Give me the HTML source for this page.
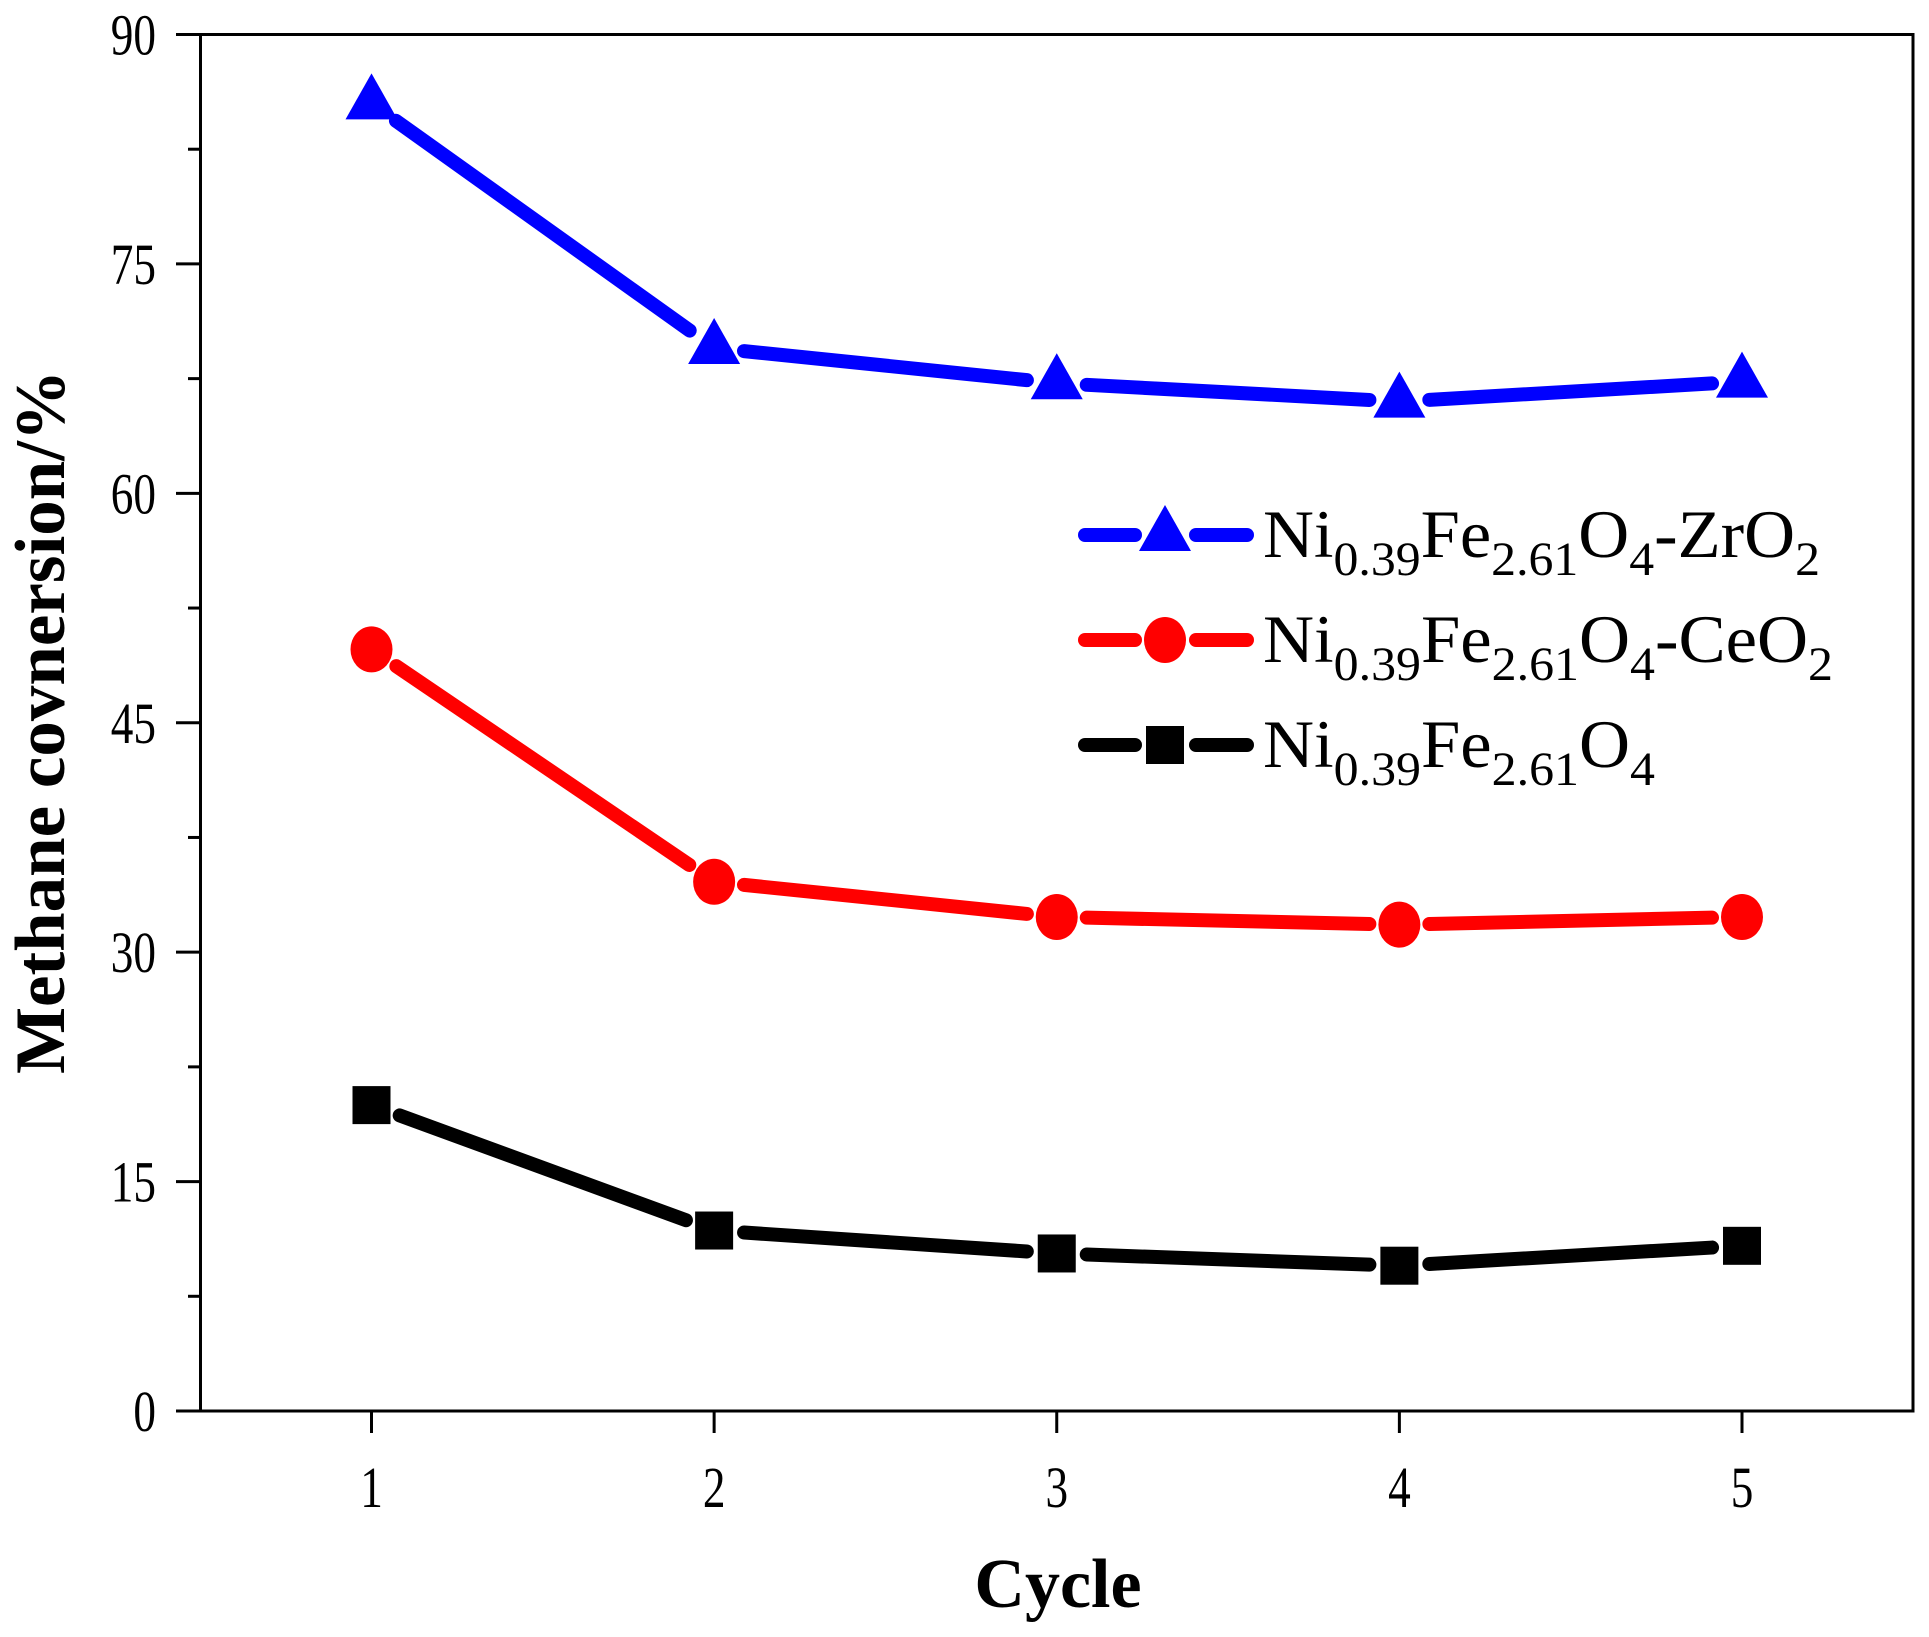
<!DOCTYPE html>
<html><head><meta charset="utf-8"><style>
html,body{margin:0;padding:0;background:#fff;}
svg{display:block;font-family:"Liberation Serif",serif;}
</style></head><body>
<svg id="chart" width="1929" height="1637" viewBox="0 0 1929 1637">
<g id="axes"></g>
<g id="series"></g>
<g id="legend"></g>
<text transform="translate(64,722) rotate(-90)" text-anchor="middle" font-size="71" font-weight="bold">Methane covnersion/%</text>
<text x="1058" y="1607" text-anchor="middle" font-size="70" font-weight="bold">Cycle</text>
</svg>
<script>
const categories = [1, 2, 3, 4, 5];
const yTicks = [0, 15, 30, 45, 60, 75, 90];
const zrValues = [85.5, 69.5, 67.2, 66.0, 67.3];
const ceValues = [49.8, 34.6, 32.3, 31.8, 32.3];
const baseValues = [20.0, 11.8, 10.3, 9.5, 10.8];
const seriesNames = ["Ni0.39Fe2.61O4-ZrO2", "Ni0.39Fe2.61O4-CeO2", "Ni0.39Fe2.61O4"];

const NS = "http://www.w3.org/2000/svg";
const L = 200.5, R = 1913, T = 34.5, B = 1411;
const xS = v => 371.5 + (v - 1) * (1742 - 371.5) / 4;
const yS = v => B - v * (B - T) / 90;
function mk(tag, attrs, parent) {
  const e = document.createElementNS(NS, tag);
  for (const k in attrs) e.setAttribute(k, attrs[k]);
  parent.appendChild(e);
  return e;
}
const axes = document.getElementById('axes');
const frame = mk('rect', {x: L, y: T, width: R - L, height: B - T, fill: 'none', stroke: '#000', 'stroke-width': 3}, axes);


mk('line', {x1: 176, y1: B, x2: L, y2: B, stroke: '#000', 'stroke-width': 3}, axes);
yTicks.forEach((t, i) => {
  const y = yS(t);
  mk('line', {x1: 176, y1: y, x2: L, y2: y, stroke: '#000', 'stroke-width': 3}, axes);
  if (i < yTicks.length - 1) {
    const ym = yS(t + 7.5);
    mk('line', {x1: 188, y1: ym, x2: L, y2: ym, stroke: '#000', 'stroke-width': 3}, axes);
  }
  const lb = mk('text', {transform: `translate(156,${y + 20}) scale(0.78,1)`, 'text-anchor': 'end', 'font-size': 58}, axes);
  lb.textContent = t;
  
  
});
categories.forEach(c => {
  const x = xS(c);
  mk('line', {x1: x, y1: B, x2: x, y2: B + 22, stroke: '#000', 'stroke-width': 3}, axes);
  const lb = mk('text', {transform: `translate(${x},${B + 96}) scale(0.78,1)`, 'text-anchor': 'middle', 'font-size': 58}, axes);
  lb.textContent = c;
  
  
});

function marker(type, x, y, color, parent) {
  let m;
  if (type === 'tri') m = mk('polygon', {points: `${x},${y-30} ${x-26},${y+16} ${x+26},${y+16}`, fill: color}, parent);
  else if (type === 'circ') m = mk('ellipse', {cx: x, cy: y, rx: 21, ry: 23, fill: color}, parent);
  else m = mk('rect', {x: x - 19, y: y - 19, width: 38, height: 38, fill: color}, parent);
  return m;
}
const sg = document.getElementById('series');
const defs = [[zrValues, '#0000ff', 'tri', 'zro2'], [ceValues, '#ff0000', 'circ', 'ceo2'], [baseValues, '#000000', 'sq', 'base']];
defs.forEach(([vals, color, type, nm]) => {
  const g = mk('g', {}, sg);
  
  
  for (let i = 0; i < vals.length - 1; i++) {
    const x1 = xS(categories[i]), y1 = yS(vals[i]), x2 = xS(categories[i+1]), y2 = yS(vals[i+1]);
    const d = Math.hypot(x2 - x1, y2 - y1), gap = 30;
    const ux = (x2 - x1) / d, uy = (y2 - y1) / d;
    const ln = mk('line', {x1: x1 + ux*gap, y1: y1 + uy*gap, x2: x2 - ux*gap, y2: y2 - uy*gap, stroke: color, 'stroke-width': 14, 'stroke-linecap': 'round'}, g);
    
    
  }
  vals.forEach((v, i) => {
    const m = marker(type, xS(categories[i]), yS(v), color, g);
    
    
  });
});

const lg = document.getElementById('legend');
const legY = [535, 640, 745];
defs.forEach(([vals, color, type, nm], i) => {
  const g = mk('g', {}, lg);
  
  
  const y = legY[i];
  mk('line', {x1: 1085, y1: y, x2: 1135, y2: y, stroke: color, 'stroke-width': 14, 'stroke-linecap': 'round'}, g);
  mk('line', {x1: 1196, y1: y, x2: 1247, y2: y, stroke: color, 'stroke-width': 14, 'stroke-linecap': 'round'}, g);
  marker(type, 1165, y, color, g);
  const parts = [['Ni', 0], ['0.39', 1], ['Fe', 0], ['2.61', 1], ['O', 0], ['4', 1]];
  if (i === 0) parts.push(['-ZrO', 0], ['2', 1]);
  if (i === 1) parts.push(['-CeO', 0], ['2', 1]);
  const widths = [557, 570, 392];
  const t = mk('text', {x: 1263, y: y + 22, 'font-size': 68, textLength: widths[i], lengthAdjust: 'spacingAndGlyphs'}, g);
  parts.forEach(([s, sub], k) => {
    const prevSub = k > 0 ? parts[k-1][1] : 0;
    const ts = mk('tspan', {'font-size': sub ? 48 : 68, dy: sub === prevSub ? 0 : (sub ? 18 : -18)}, t);
    ts.textContent = s;
  });
  
  
});
</script>
</body></html>
